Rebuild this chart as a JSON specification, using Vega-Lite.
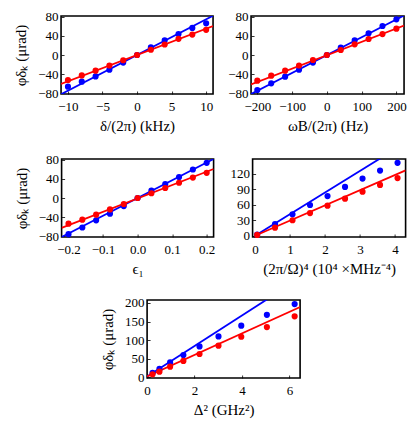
{
  "$schema": "https://vega.github.io/schema/vega-lite/v6.json",
  "padding": {"left": 12, "top": 10, "right": 5, "bottom": 5},
  "config": {
    "font": "Liberation Serif, Times New Roman, serif",
    "view": {"stroke": "black", "strokeWidth": 1.6},
    "axis": {
      "labelFont": "Liberation Serif, Times New Roman, serif", "titleFont": "Liberation Serif, Times New Roman, serif",
      "labelFontSize": 13, "titleFontSize": 15, "titleFontWeight": "normal",
      "labelColor": "black", "titleColor": "black",
      "domain": false, "grid": false, "tickColor": "black", "tickSize": -3, "tickWidth": 0.8,
      "labelFlush": false, "labelOverlap": false
    },
    "axisX": {"labelPadding": 9, "titlePadding": 5},
    "axisY": {"labelPadding": 6, "titlePadding": 9},
    "circle": {"size": 38, "opacity": 1}
  },
  "center": true,
  "spacing": 19,
  "vconcat": [
    {
      "spacing": 12,
      "hconcat": [
        {
          "width": 152, "height": 78,
          "data": {"values": [
            {"k": "p", "s": "b", "x": -10, "y": -66.6}, {"k": "p", "s": "b", "x": -8, "y": -56}, {"k": "p", "s": "b", "x": -6, "y": -45}, {"k": "p", "s": "b", "x": -4, "y": -31}, {"k": "p", "s": "b", "x": -2, "y": -16}, {"k": "p", "s": "b", "x": 0, "y": 0}, {"k": "p", "s": "b", "x": 2, "y": 16}, {"k": "p", "s": "b", "x": 4, "y": 31}, {"k": "p", "s": "b", "x": 6, "y": 44}, {"k": "p", "s": "b", "x": 8, "y": 57}, {"k": "p", "s": "b", "x": 10, "y": 66.6},
            {"k": "p", "s": "r", "x": -10, "y": -52.5}, {"k": "p", "s": "r", "x": -8, "y": -43}, {"k": "p", "s": "r", "x": -6, "y": -33}, {"k": "p", "s": "r", "x": -4, "y": -22}, {"k": "p", "s": "r", "x": -2, "y": -11}, {"k": "p", "s": "r", "x": 0, "y": 0}, {"k": "p", "s": "r", "x": 2, "y": 11}, {"k": "p", "s": "r", "x": 4, "y": 22}, {"k": "p", "s": "r", "x": 6, "y": 34}, {"k": "p", "s": "r", "x": 8, "y": 43}, {"k": "p", "s": "r", "x": 10, "y": 53},
            {"k": "l", "s": "b", "x": -11, "y": -82.5}, {"k": "l", "s": "b", "x": 11, "y": 82.5},
            {"k": "l", "s": "r", "x": -11, "y": -61}, {"k": "l", "s": "r", "x": 11, "y": 61}
          ]},
          "encoding": {
            "x": {"field": "x", "type": "quantitative", "scale": {"domain": [-11, 11], "nice": false, "zero": false}, "axis": {"values": [-10, -5, 0, 5, 10], "title": "δ/(2π) (kHz)"}},
            "y": {"field": "y", "type": "quantitative", "scale": {"domain": [-82, 82], "nice": false}, "axis": {"values": [-80, -40, 0, 40, 80], "title": "φδₖ (μrad)"}},
            "color": {"field": "s", "type": "nominal", "scale": {"domain": ["b", "r"], "range": ["#0000ff", "#ff0000"]}, "legend": null}
          },
          "layer": [
            {"transform": [{"filter": "datum.k == 'l'"}], "mark": {"type": "line", "clip": true, "strokeWidth": 1.8}},
            {"transform": [{"filter": "datum.k == 'p'"}], "mark": {"type": "circle"}}
          ]
        },
        {
          "width": 153, "height": 78,
          "data": {"values": [
            {"k": "p", "s": "b", "x": -200, "y": -73.6}, {"k": "p", "s": "b", "x": -160, "y": -59.6}, {"k": "p", "s": "b", "x": -120, "y": -45.5}, {"k": "p", "s": "b", "x": -80, "y": -31}, {"k": "p", "s": "b", "x": -40, "y": -16}, {"k": "p", "s": "b", "x": 0, "y": 0}, {"k": "p", "s": "b", "x": 40, "y": 15.4}, {"k": "p", "s": "b", "x": 80, "y": 31}, {"k": "p", "s": "b", "x": 120, "y": 45.5}, {"k": "p", "s": "b", "x": 160, "y": 61}, {"k": "p", "s": "b", "x": 200, "y": 75},
            {"k": "p", "s": "r", "x": -200, "y": -54}, {"k": "p", "s": "r", "x": -160, "y": -43.5}, {"k": "p", "s": "r", "x": -120, "y": -33}, {"k": "p", "s": "r", "x": -80, "y": -22}, {"k": "p", "s": "r", "x": -40, "y": -10.5}, {"k": "p", "s": "r", "x": 0, "y": 0}, {"k": "p", "s": "r", "x": 40, "y": 10.5}, {"k": "p", "s": "r", "x": 80, "y": 22.4}, {"k": "p", "s": "r", "x": 120, "y": 33.6}, {"k": "p", "s": "r", "x": 160, "y": 44}, {"k": "p", "s": "r", "x": 200, "y": 55.4},
            {"k": "l", "s": "b", "x": -218, "y": -82}, {"k": "l", "s": "b", "x": 222, "y": 83},
            {"k": "l", "s": "r", "x": -218, "y": -62}, {"k": "l", "s": "r", "x": 222, "y": 62}
          ]},
          "encoding": {
            "x": {"field": "x", "type": "quantitative", "scale": {"domain": [-218, 222], "nice": false, "zero": false}, "axis": {"values": [-200, -100, 0, 100, 200], "title": "ωB/(2π) (Hz)"}},
            "y": {"field": "y", "type": "quantitative", "scale": {"domain": [-82, 82], "nice": false}, "axis": {"values": [-80, -40, 0, 40, 80], "title": null}},
            "color": {"field": "s", "type": "nominal", "scale": {"domain": ["b", "r"], "range": ["#0000ff", "#ff0000"]}, "legend": null}
          },
          "layer": [
            {"transform": [{"filter": "datum.k == 'l'"}], "mark": {"type": "line", "clip": true, "strokeWidth": 1.8}},
            {"transform": [{"filter": "datum.k == 'p'"}], "mark": {"type": "circle"}}
          ]
        }
      ]
    },
    {
      "spacing": 12,
      "hconcat": [
        {
          "width": 152, "height": 78,
          "data": {"values": [
            {"k": "p", "s": "b", "x": -0.2, "y": -76}, {"k": "p", "s": "b", "x": -0.16, "y": -62}, {"k": "p", "s": "b", "x": -0.12, "y": -47}, {"k": "p", "s": "b", "x": -0.08, "y": -33}, {"k": "p", "s": "b", "x": -0.04, "y": -17}, {"k": "p", "s": "b", "x": 0, "y": 0}, {"k": "p", "s": "b", "x": 0.04, "y": 15.4}, {"k": "p", "s": "b", "x": 0.08, "y": 29.4}, {"k": "p", "s": "b", "x": 0.12, "y": 44}, {"k": "p", "s": "b", "x": 0.16, "y": 60}, {"k": "p", "s": "b", "x": 0.2, "y": 74},
            {"k": "p", "s": "r", "x": -0.2, "y": -54}, {"k": "p", "s": "r", "x": -0.16, "y": -45.5}, {"k": "p", "s": "r", "x": -0.12, "y": -35}, {"k": "p", "s": "r", "x": -0.08, "y": -24}, {"k": "p", "s": "r", "x": -0.04, "y": -12.6}, {"k": "p", "s": "r", "x": 0, "y": 0}, {"k": "p", "s": "r", "x": 0.04, "y": 10}, {"k": "p", "s": "r", "x": 0.08, "y": 21}, {"k": "p", "s": "r", "x": 0.12, "y": 32}, {"k": "p", "s": "r", "x": 0.16, "y": 43}, {"k": "p", "s": "r", "x": 0.2, "y": 53},
            {"k": "l", "s": "b", "x": -0.22, "y": -82}, {"k": "l", "s": "b", "x": 0.22, "y": 82},
            {"k": "l", "s": "r", "x": -0.22, "y": -63}, {"k": "l", "s": "r", "x": 0.22, "y": 61}
          ]},
          "encoding": {
            "x": {"field": "x", "type": "quantitative", "scale": {"domain": [-0.22, 0.22], "nice": false, "zero": false}, "axis": {"values": [-0.2, -0.1, 0, 0.1, 0.2], "format": ".1f", "title": "ϵ₁"}},
            "y": {"field": "y", "type": "quantitative", "scale": {"domain": [-82, 82], "nice": false}, "axis": {"values": [-80, -40, 0, 40, 80], "title": "φδₖ (μrad)"}},
            "color": {"field": "s", "type": "nominal", "scale": {"domain": ["b", "r"], "range": ["#0000ff", "#ff0000"]}, "legend": null}
          },
          "layer": [
            {"transform": [{"filter": "datum.k == 'l'"}], "mark": {"type": "line", "clip": true, "strokeWidth": 1.8}},
            {"transform": [{"filter": "datum.k == 'p'"}], "mark": {"type": "circle"}}
          ]
        },
        {
          "width": 153, "height": 78,
          "data": {"values": [
            {"k": "p", "s": "b", "x": 0.06, "y": 2}, {"k": "p", "s": "b", "x": 0.57, "y": 22.8}, {"k": "p", "s": "b", "x": 1.07, "y": 41.6}, {"k": "p", "s": "b", "x": 1.57, "y": 59.7}, {"k": "p", "s": "b", "x": 2.07, "y": 77}, {"k": "p", "s": "b", "x": 2.57, "y": 94.7}, {"k": "p", "s": "b", "x": 3.07, "y": 111}, {"k": "p", "s": "b", "x": 3.57, "y": 126.5}, {"k": "p", "s": "b", "x": 4.07, "y": 141.5},
            {"k": "p", "s": "r", "x": 0.06, "y": 1.5}, {"k": "p", "s": "r", "x": 0.57, "y": 15.6}, {"k": "p", "s": "r", "x": 1.07, "y": 30}, {"k": "p", "s": "r", "x": 1.57, "y": 44}, {"k": "p", "s": "r", "x": 2.07, "y": 58.4}, {"k": "p", "s": "r", "x": 2.57, "y": 72}, {"k": "p", "s": "r", "x": 3.07, "y": 85.6}, {"k": "p", "s": "r", "x": 3.57, "y": 98.6}, {"k": "p", "s": "r", "x": 4.07, "y": 112},
            {"k": "l", "s": "b", "x": 0, "y": 0}, {"k": "l", "s": "b", "x": 4.3, "y": 180.6},
            {"k": "l", "s": "r", "x": 0, "y": 0}, {"k": "l", "s": "r", "x": 4.3, "y": 127}
          ]},
          "encoding": {
            "x": {"field": "x", "type": "quantitative", "scale": {"domain": [-0.07, 4.3], "nice": false, "zero": false}, "axis": {"values": [0, 1, 2, 3, 4], "title": "(2π/Ω)⁴  (10⁴ ×MHz⁻⁴)"}},
            "y": {"field": "y", "type": "quantitative", "scale": {"domain": [-2.5, 149], "nice": false, "zero": false}, "axis": {"values": [0, 30, 60, 90, 120], "title": null}},
            "color": {"field": "s", "type": "nominal", "scale": {"domain": ["b", "r"], "range": ["#0000ff", "#ff0000"]}, "legend": null}
          },
          "layer": [
            {"transform": [{"filter": "datum.k == 'l'"}], "mark": {"type": "line", "clip": true, "strokeWidth": 1.8}},
            {"transform": [{"filter": "datum.k == 'p'"}], "mark": {"type": "circle"}}
          ]
        }
      ]
    },
    {
      "width": 153, "height": 78,
      "resolve": {"axis": {"y": "independent"}},
      "data": {"values": [
        {"k": "p", "s": "b", "x": 0.23, "y": 11.6}, {"k": "p", "s": "b", "x": 0.52, "y": 22.4}, {"k": "p", "s": "b", "x": 0.97, "y": 40}, {"k": "p", "s": "b", "x": 1.53, "y": 60}, {"k": "p", "s": "b", "x": 2.21, "y": 83}, {"k": "p", "s": "b", "x": 3.01, "y": 110}, {"k": "p", "s": "b", "x": 3.97, "y": 139}, {"k": "p", "s": "b", "x": 5.05, "y": 168}, {"k": "p", "s": "b", "x": 6.22, "y": 197},
        {"k": "p", "s": "r", "x": 0.23, "y": 8}, {"k": "p", "s": "r", "x": 0.52, "y": 15}, {"k": "p", "s": "r", "x": 0.97, "y": 28.5}, {"k": "p", "s": "r", "x": 1.53, "y": 44}, {"k": "p", "s": "r", "x": 2.21, "y": 62.7}, {"k": "p", "s": "r", "x": 3.01, "y": 85}, {"k": "p", "s": "r", "x": 3.97, "y": 109}, {"k": "p", "s": "r", "x": 5.05, "y": 135}, {"k": "p", "s": "r", "x": 6.22, "y": 164},
        {"k": "l", "s": "b", "x": 0, "y": 2}, {"k": "l", "s": "b", "x": 6.45, "y": 267},
        {"k": "l", "s": "r", "x": 0, "y": 2}, {"k": "l", "s": "r", "x": 6.45, "y": 189}
      ]},
      "encoding": {
        "x": {"field": "x", "type": "quantitative", "scale": {"domain": [0, 6.45], "nice": false, "zero": false}, "axis": {"values": [0, 2, 4, 6], "title": "Δ²  (GHz²)"}},
        "color": {"field": "s", "type": "nominal", "scale": {"domain": ["b", "r"], "range": ["#0000ff", "#ff0000"]}, "legend": null}
      },
      "layer": [
        {"transform": [{"filter": "datum.k == 'l'"}], "mark": {"type": "line", "clip": true, "strokeWidth": 1.8},
         "encoding": {"y": {"field": "y", "type": "quantitative", "scale": {"domain": [-2, 208], "nice": false, "zero": false}, "axis": {"orient": "left", "values": [0, 50, 100, 150, 200], "title": "φδₖ (μrad)"}}}},
        {"transform": [{"filter": "datum.k == 'p'"}], "mark": {"type": "circle"},
         "encoding": {"y": {"field": "y", "type": "quantitative", "scale": {"domain": [-2, 208], "nice": false, "zero": false}, "axis": {"orient": "right", "values": [0, 50, 100, 150, 200], "title": null, "labels": false, "ticks": false, "domain": true, "domainOpacity": 0, "offset": 20}}}}
      ]
    }
  ]
}
